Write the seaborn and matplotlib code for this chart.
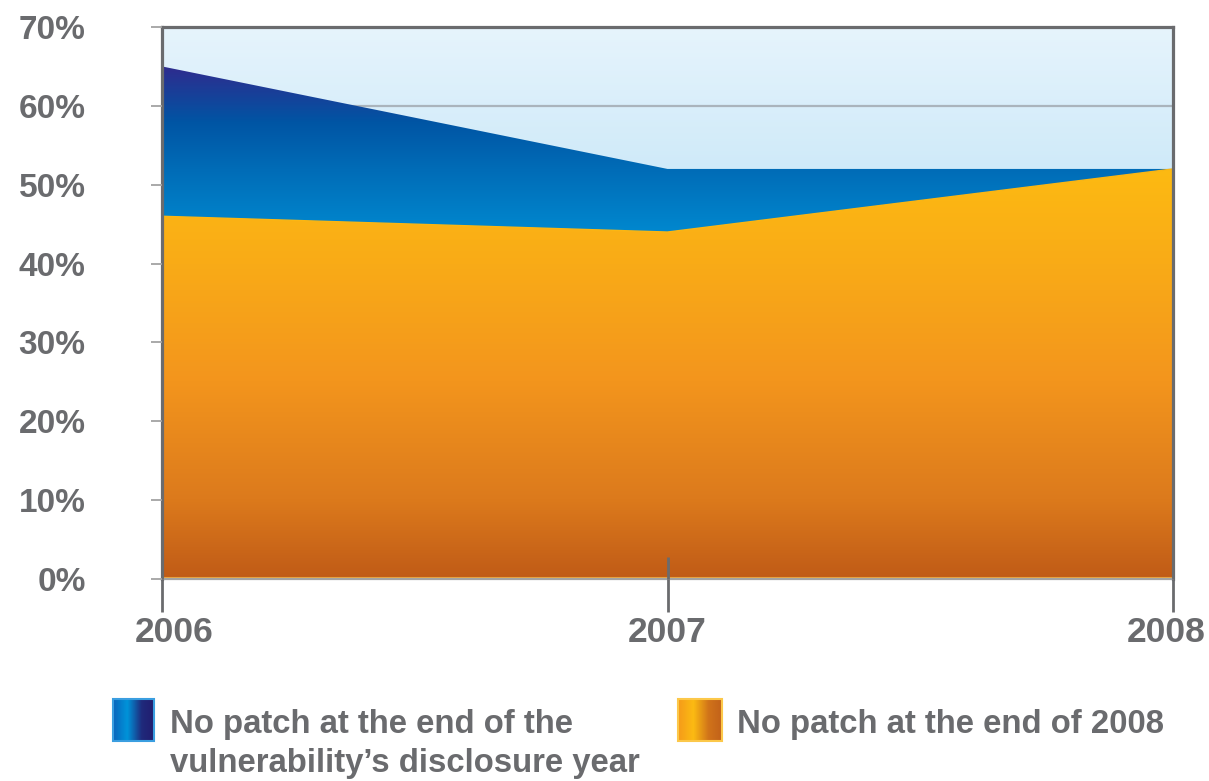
import numpy as np
import pandas as pd
import seaborn as sns
import matplotlib.pyplot as plt
from matplotlib.colors import LinearSegmentedColormap
from matplotlib.patches import Rectangle
from matplotlib.transforms import ScaledTranslation

# ---- data -------------------------------------------------------------
years = [2006, 2007, 2008]
no_patch_disclosure_year = [65, 52, 52]   # % with no patch at end of disclosure year
no_patch_end_2008 = [46, 44, 52]          # % with no patch at end of 2008
y_ticks = [0, 10, 20, 30, 40, 50, 60, 70]
y_tick_labels = [f"{v}%" for v in y_ticks]
legend_labels = [
    "No patch at the end of the\nvulnerability\u2019s disclosure year",
    "No patch at the end of 2008",
]

df = pd.DataFrame({
    "year": years,
    "disclosure": no_patch_disclosure_year,
    "end2008": no_patch_end_2008,
})

# ---- style ------------------------------------------------------------
sns.set_style("white")
plt.rcParams["font.family"] = ["Liberation Sans", "DejaVu Sans"]
GREY = "#6a6b6e"

W, H = 1209, 781
fig = plt.figure(figsize=(W / 100, H / 100), dpi=100)
fig.patch.set_facecolor("white")

left, right, top, bottom = 162, 1173, 27, 579
ax = fig.add_axes([left / W, 1 - bottom / H, (right - left) / W, (bottom - top) / H])
ax.set_axisbelow(False)   # keep tick marks above the filled areas

YMAX = 70
ax.set_xlim(years[0], years[-1])
ax.set_ylim(0, YMAX)


def gradient_cmap(stops):
    """stops: list of (data_y, colour); returns a colormap over 0..YMAX."""
    return LinearSegmentedColormap.from_list(
        "g", [(y / YMAX, c) for y, c in stops])


def vertical_fill(ax, stops, clip=None, zorder=1):
    grad = np.linspace(0, 1, 512).reshape(-1, 1)
    im = ax.imshow(grad, cmap=gradient_cmap(stops), origin="lower",
                   extent=[years[0], years[-1], 0, YMAX], aspect="auto",
                   interpolation="bicubic", zorder=zorder, vmin=0, vmax=1)
    if clip is not None:
        im.set_clip_path(clip.get_paths()[0], transform=ax.transData)
    return im


# background panel
vertical_fill(ax, [(0, "#c4e4f6"), (52, "#cfeaf9"), (70, "#e6f4fc")], zorder=0)

# horizontal gridlines sit under the areas
ax.grid(False)
for v in y_ticks:
    ax.axhline(v, color="#aab4bc", lw=1.6, zorder=0.5)

# blue area: no patch at end of disclosure year
blue_poly = ax.fill_between(df["year"], 0, df["disclosure"], color="none",
                            lw=0, zorder=1)
vertical_fill(ax, [(0, "#0090d4"), (44, "#0088cf"), (52, "#006cb7"),
                   (58, "#0055a4"), (65, "#2e2c8e"), (70, "#2e2c8e")],
              clip=blue_poly, zorder=1)

# orange area: no patch at end of 2008
orange_poly = ax.fill_between(df["year"], 0, df["end2008"], color="none",
                              lw=0, zorder=1.5)
vertical_fill(ax, [(0, "#c05b17"), (10, "#dc7a1c"), (25, "#f3951d"),
                   (40, "#f9ab17"), (52, "#fdba12"), (70, "#fdba12")],
              clip=orange_poly, zorder=1.5)
sns.lineplot(data=df, x="year", y="end2008", color="#fbb613", lw=1.0,
             ax=ax, zorder=1.8)
ax.axhline(0.15, color="#eea43a", lw=1.5, zorder=1.8)

# ---- axes decoration -----------------------------------------------------
for side in ["left", "top", "right"]:
    ax.spines[side].set_color(GREY)
    ax.spines[side].set_linewidth(2.3)
    ax.spines[side].set_visible(True)
ax.spines["bottom"].set_color("#a3a3a3")
ax.spines["bottom"].set_linewidth(1.6)
ax.spines["bottom"].set_visible(True)

ax.set_xticks(years)
ax.set_xticklabels([str(y) for y in years])
ax.xaxis.remove_overlapping_locs = False
ax.set_xticks(years, minor=True)
ax.set_yticks(y_ticks)
ax.set_yticklabels(y_tick_labels)
ax.set_xlabel("")
ax.set_ylabel("")

# year ticks: long outward mark plus a short inward stub
ax.tick_params(axis="x", which="major", direction="out", length=24, width=2.0,
               color=GREY, pad=3, labelsize=25.5, labelcolor=GREY, bottom=True)
ax.tick_params(axis="x", which="minor", direction="in", length=16, width=2.0,
               color=GREY, bottom=True)
ax.tick_params(axis="y", direction="out", length=8, width=1.3,
               color="#a3a3a3", pad=47, labelsize=24, labelcolor=GREY,
               left=True)
for lab in ax.get_xticklabels() + ax.get_yticklabels():
    lab.set_fontweight("bold")

# nudge the end year labels inward
xlabs = ax.get_xticklabels()
xlabs[0].set_transform(xlabs[0].get_transform()
                       + ScaledTranslation(12 / 100, 0, fig.dpi_scale_trans))
xlabs[-1].set_transform(xlabs[-1].get_transform()
                        + ScaledTranslation(-7 / 100, 0, fig.dpi_scale_trans))

# ---- legend ---------------------------------------------------------------
def swatch(x0, y0, x1, y1, colours, edge):
    sax = fig.add_axes([x0 / W, 1 - y1 / H, (x1 - x0) / W, (y1 - y0) / H])
    cmap = LinearSegmentedColormap.from_list("s", colours)
    sax.imshow(np.linspace(0, 1, 256).reshape(1, -1), cmap=cmap,
               aspect="auto", extent=[0, 1, 0, 1], interpolation="bicubic")
    sax.add_patch(Rectangle((0, 0), 1, 1, fill=False, ec=edge, lw=1.5,
                            transform=sax.transAxes, clip_on=False))
    sax.set_axis_off()


swatch(113, 699, 154, 741,
       [(0, "#0a64bb"), (0.35, "#0094da"), (0.7, "#1f2a7c"), (1, "#221d6e")],
       "#3a9ee0")
swatch(678, 699, 722, 741,
       [(0, "#f59a1a"), (0.35, "#fcbb12"), (0.7, "#d0731a"), (1, "#c2611a")],
       "#fcc84a")

entries = [(170, legend_labels[0]), (737, legend_labels[1])]
for x, label in entries:
    for i, line in enumerate(label.split("\n")):
        fig.text(x / W, 1 - (733 + 39 * i) / H, line, ha="left",
                 va="baseline", fontsize=23.7, fontweight="bold", color=GREY)

fig.savefig("out.png", dpi=100, facecolor="white")
